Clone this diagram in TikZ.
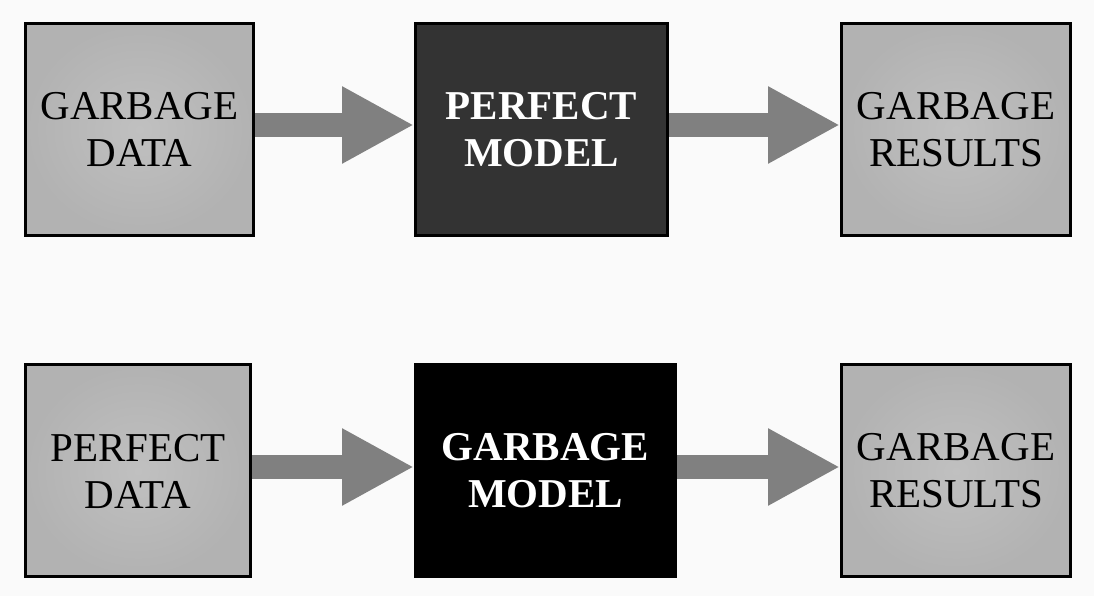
\documentclass[tikz,border=0pt]{standalone}
\usepackage{fontspec}
\setmainfont{Liberation Serif}
\usetikzlibrary{arrows.meta}
\definecolor{bggray}{HTML}{FAFAFA}
\definecolor{sideinner}{HTML}{C0C0C0}
\definecolor{sideouter}{HTML}{B2B2B2}
\definecolor{darkbox}{HTML}{333333}
\definecolor{arrowgray}{HTML}{808080}
\begin{document}
\begin{tikzpicture}[x=1pt, y=1pt,
        sidebox/.style={draw, line width=3pt, inner color=sideinner, outer color=sideouter,
            minimum height=212pt, align=center, font=\fontsize{41}{47}\selectfont},
        midbox/.style={draw, line width=3pt, text=white, minimum height=212pt,
            align=center, font=\fontsize{41}{47}\selectfont\bfseries},
        blockarrow/.style={draw=arrowgray, line width=24pt,
            -{Triangle[length=72pt, width=72pt, fill=arrowgray]}}]
        \fill[bggray] (0, 0) rectangle (1094, 596);
        \useasboundingbox (0, 0) rectangle (1094, 596);

        \node[sidebox, minimum width=228pt] (gdata) at (139.5, 466.5) {GARBAGE\\DATA};
        \node[midbox, fill=darkbox, minimum width=252pt] (pmodel) at (541.5, 466.5) {PERFECT\\MODEL};
        \node[sidebox, minimum width=229pt] (gres1) at (956, 466.5) {GARBAGE\\RESULTS};

        \node[sidebox, minimum width=225pt] (pdata) at (138, 125) {PERFECT\\DATA};
        \node[midbox, fill=black, minimum width=260pt] (gmodel) at (545.5, 125) {GARBAGE\\MODEL};
        \node[sidebox, minimum width=229pt] (gres2) at (956, 125) {GARBAGE\\RESULTS};

        \draw[blockarrow] ([yshift=4.5pt]gdata.east) -- ([yshift=4.5pt]pmodel.west);
        \draw[blockarrow] ([yshift=4.5pt]pmodel.east) -- ([yshift=4.5pt]gres1.west);
        \draw[blockarrow] ([yshift=4pt]pdata.east) -- ([yshift=4pt]gmodel.west);
        \draw[blockarrow] ([yshift=4pt]gmodel.east) -- ([yshift=4pt]gres2.west);
    \end{tikzpicture}
\end{document}
